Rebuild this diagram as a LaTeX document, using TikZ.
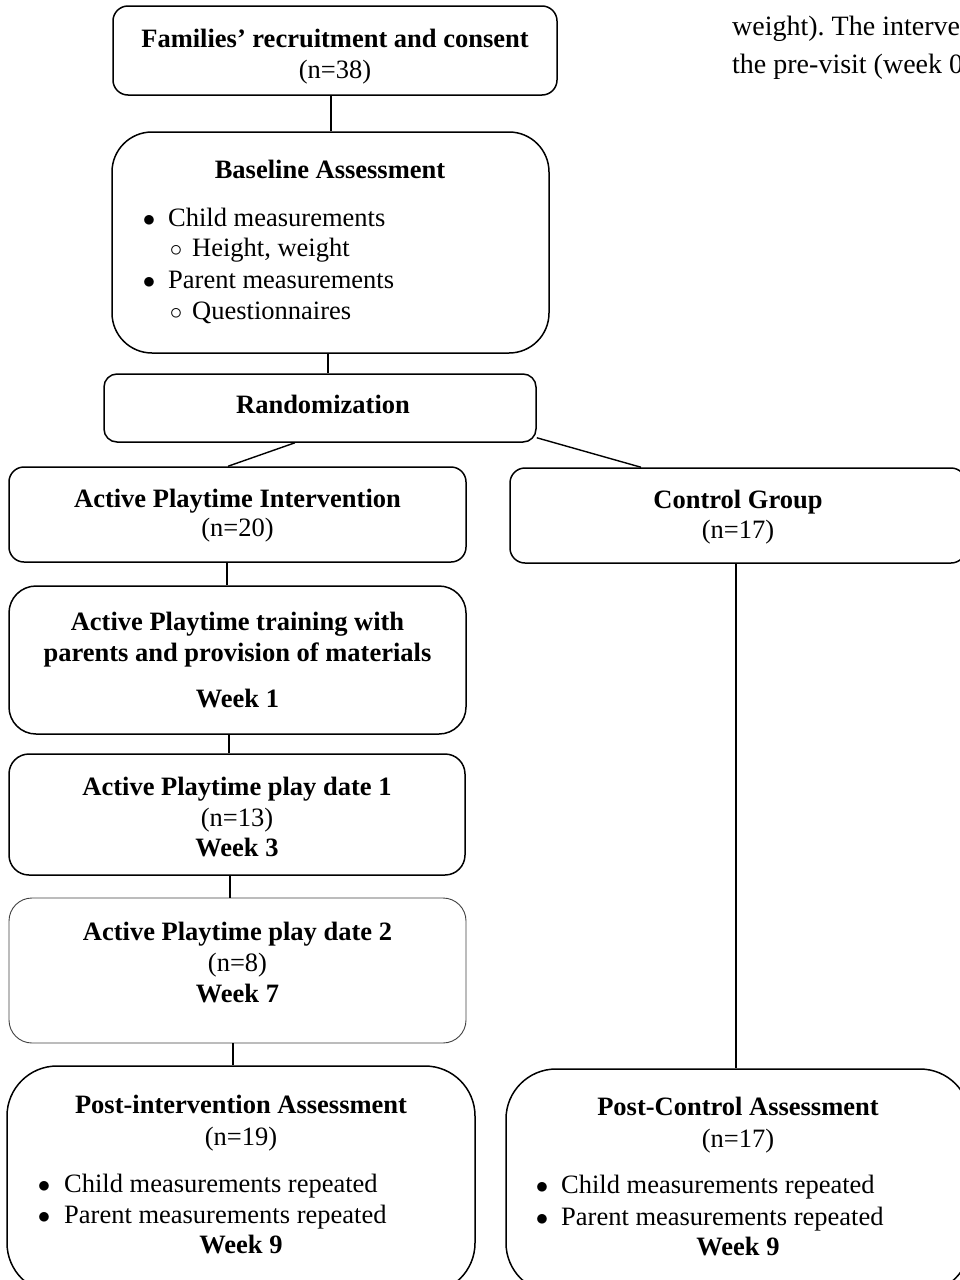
\documentclass[tikz,border=0pt]{standalone}
\usepackage{fontspec}
\setmainfont{Liberation Serif}
\frenchspacing
\tikzset{
  box/.style={draw, line width=1.5pt, rounded corners=#1, inner sep=0pt},
  thinbox/.style={draw=black!75, line width=0.9pt, rounded corners=#1, inner sep=0pt},
  link/.style={line width=1.4pt},
  txt/.style={anchor=base, inner sep=0pt, font=\fontsize{26.5}{31}\selectfont},
  ttl/.style={txt, font=\fontsize{26.5}{31}\selectfont\bfseries},
  itm/.style={txt, anchor=base west},
  pagetxt/.style={anchor=base west, inner sep=0pt, font=\fontsize{28}{38}\selectfont}
}
\begin{document}
\begin{tikzpicture}[x=1pt, y=-1pt]
      \clip (0,0) rectangle (960,1280);
      % boxes
      \node[box=15, minimum width=444, minimum height=89] (fam) at (335,50.5) {};
      \node[box=40, minimum width=437, minimum height=221] (base) at (330.5,242.5) {};
      \node[box=13, minimum width=432, minimum height=68] (rand) at (320,408) {};
      \node[box=15, minimum width=457, minimum height=95] (api) at (237.5,514.5) {};
      \node[box=15, minimum width=456, minimum height=95] (ctrl) at (738,515.5) {};
      \node[box=27, minimum width=457, minimum height=148] (train) at (237.5,660) {};
      \node[box=20, minimum width=456, minimum height=121] (pdone) at (237,814.5) {};
      \node[thinbox=23, minimum width=457, minimum height=145] (pdtwo) at (237.5,970.5) {};
      \node[box=50, minimum width=468, minimum height=227] (postint) at (241,1179.5) {};
      \node[box=50, minimum width=464, minimum height=224] (postctrl) at (738,1181) {};
      % texts
      \node[ttl] (famT) at (335,47) {Families’ recruitment and consent};
      \node[txt] (famN) at (335,78) {(n=38)};
      \node[ttl] (baseT) at (330,178) {Baseline Assessment};
      \node[txt] (baseB1) at (149,226) {$\bullet$};
      \node[itm] (baseI1) at (168,226) {Child measurements};
      \node[txt] (baseS1) at (176,256) {$\circ$};
      \node[itm] (baseJ1) at (192,256) {Height, weight};
      \node[txt] (baseB2) at (149,288) {$\bullet$};
      \node[itm] (baseI2) at (168,288) {Parent measurements};
      \node[txt] (baseS2) at (176,319) {$\circ$};
      \node[itm] (baseJ2) at (192,319) {Questionnaires};
      \node[ttl] (randT) at (323,413) {Randomization};
      \node[ttl] (apiT) at (237.5,507) {Active Playtime Intervention};
      \node[txt] (apiN) at (237.5,536) {(n=20)};
      \node[ttl] (ctrlT) at (738,508) {Control Group};
      \node[txt] (ctrlN) at (738,538) {(n=17)};
      \node[ttl] (trainT) at (237.5,630) {Active Playtime training with};
      \node[ttl] (trainU) at (237.5,661) {parents and provision of materials};
      \node[ttl] (trainW) at (237.5,707) {Week 1};
      \node[ttl] (pdoneT) at (237,795) {Active Playtime play date 1};
      \node[txt] (pdoneN) at (237,826) {(n=13)};
      \node[ttl] (pdoneW) at (237,856) {Week 3};
      \node[ttl] (pdtwoT) at (237.5,940) {Active Playtime play date 2};
      \node[txt] (pdtwoN) at (237.5,971) {(n=8)};
      \node[ttl] (pdtwoW) at (237.5,1002) {Week 7};
      \node[ttl] (postintT) at (241,1113) {Post-intervention Assessment};
      \node[txt] (postintN) at (241,1145) {(n=19)};
      \node[txt] (postintB1) at (44,1192) {$\bullet$};
      \node[itm] (postintI1) at (64,1192) {Child measurements repeated};
      \node[txt] (postintB2) at (44,1223) {$\bullet$};
      \node[itm] (postintI2) at (64,1223) {Parent measurements repeated};
      \node[ttl] (postintW) at (241,1253) {Week 9};
      \node[ttl] (postctrlT) at (738,1115) {Post-Control Assessment};
      \node[txt] (postctrlN) at (738,1147) {(n=17)};
      \node[txt] (postctrlB1) at (542,1193) {$\bullet$};
      \node[itm] (postctrlI1) at (561,1193) {Child measurements repeated};
      \node[txt] (postctrlB2) at (542,1225) {$\bullet$};
      \node[itm] (postctrlI2) at (561,1225) {Parent measurements repeated};
      \node[ttl] (postctrlW) at (738,1255) {Week 9};
      % page text behind the figure (cut at the edge, as in the source)
      \node[pagetxt] (pageA) at (732,35) {weight). The intervention};
      \node[pagetxt] (pageB) at (732,73) {the pre-visit (week 0)};
      % connectors
      \draw[link] ([xshift=-4pt]fam.south) -- ([xshift=-4pt]fam.south |- base.north);
      \draw[link] ([xshift=-2.5pt]base.south) -- ([xshift=-2.5pt]base.south |- rand.north);
      \draw[link] ([xshift=-25pt]rand.south) -- ([xshift=-9.5pt]api.north);
      \draw[link] ([yshift=5pt]rand.south east) -- ([xshift=-97pt]ctrl.north);
      \draw[link] ([xshift=-10.5pt]api.south) -- ([xshift=-10.5pt]api.south |- train.north);
      \draw[link] ([xshift=-8.5pt]train.south) -- ([xshift=-8.5pt]train.south |- pdone.north);
      \draw[link] ([xshift=-7pt]pdone.south) -- ([xshift=-7pt]pdone.south |- pdtwo.north);
      \draw[link] ([xshift=-4.5pt]pdtwo.south) -- ([xshift=-4.5pt]pdtwo.south |- postint.north);
      \draw[link] ([xshift=-2pt]ctrl.south) -- ([xshift=-2pt]ctrl.south |- postctrl.north);
    \end{tikzpicture}
\end{document}
